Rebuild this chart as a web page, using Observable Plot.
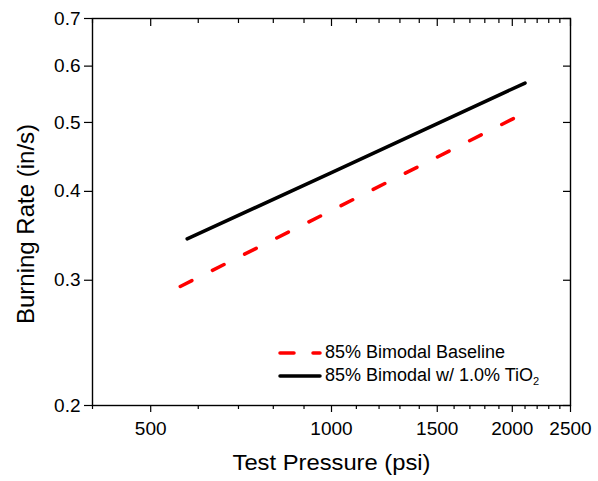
<!DOCTYPE html>
<html>
<head>
<meta charset="utf-8">
<script src="https://cdn.jsdelivr.net/npm/d3@7"></script>
<script src="https://cdn.jsdelivr.net/npm/@observablehq/plot@0.6"></script>
<style>
  html, body { margin: 0; padding: 0; background: #fff; }
  #wrap { position: relative; width: 598px; height: 481px; font-family: "Liberation Sans", Arial, sans-serif; }
  #legend { position: absolute; left: 276px; top: 341px; font-size: 18px; color: #000; line-height: 23px; }
  #legend .row { display: flex; align-items: center; height: 23px; white-space: nowrap; }
  #legend svg { width: 48px; height: 10px; margin-right: 1px; }
  #legend sub { font-size: 11px; vertical-align: -4px; line-height: 0; }
</style>
</head>
<body>
<div id="wrap"></div>
<script>
// ---- data ----
const seriesNames = ["85% Bimodal Baseline", "85% Bimodal w/ 1.0% TiO2"];
const baselinePressure = [560, 1000, 2100];
const baselineRate = [0.294, 0.376, 0.516];
const tio2Pressure = [575, 1000, 2100];
const tio2Rate = [0.343, 0.425, 0.568];
const xMajorTicks = [500, 1000, 1500, 2000, 2500];
const xMinorTicks = [400, 600, 700, 800, 900, 1100, 1200, 1300, 1400, 1600, 1700, 1800, 1900, 2100, 2200, 2300, 2400];
const yTicks = [0.2, 0.3, 0.4, 0.5, 0.6, 0.7];
const xTitle = "Test Pressure (psi)";
const yTitle = "Burning Rate (in/s)";

const baseline = baselinePressure.map((p, i) => ({p, r: baselineRate[i]}));
const tio2 = tio2Pressure.map((p, i) => ({p, r: tio2Rate[i]}));

const font = "Liberation Sans, Arial, sans-serif";
const dash = "13 23";

const chart = Plot.plot({
  width: 598,
  height: 481,
  marginLeft: 92,
  marginRight: 28,
  marginTop: 18,
  marginBottom: 76,
  style: {fontFamily: font, color: "#000", background: "#fff"},
  x: {type: "log", domain: [400, 2500]},
  y: {type: "log", domain: [0.2, 0.7]},
  marks: [
    Plot.axisX({ticks: xMajorTicks, tickSize: 7, tickPadding: 9, fontSize: 19, tickFormat: d => String(d), label: null, strokeWidth: 1.2}),
    Plot.axisX({ticks: xMinorTicks, tickSize: 4, text: null, label: null, strokeWidth: 1.2}),
    Plot.axisX({anchor: "top", ticks: xMajorTicks, tickSize: -7, text: null, label: null, strokeWidth: 1.2}),
    Plot.axisX({anchor: "top", ticks: xMinorTicks, tickSize: -4, text: null, label: null, strokeWidth: 1.2}),
    Plot.axisY({ticks: yTicks, tickSize: 8, tickPadding: 4, fontSize: 19, tickFormat: d3.format(".1f"), label: null, strokeWidth: 1.2}),
    Plot.axisY({anchor: "right", ticks: yTicks, tickSize: -8, text: null, label: null, strokeWidth: 1.2}),
    Plot.frame({stroke: "#000", strokeWidth: 1.4}),
    Plot.line(baseline, {x: "p", y: "r", stroke: "#ff0000", strokeWidth: 3.5, strokeDasharray: dash, strokeLinecap: "round"}),
    Plot.line(tio2, {x: "p", y: "r", stroke: "#000", strokeWidth: 3.5, strokeLinecap: "round"}),
    Plot.text([xTitle], {frameAnchor: "bottom", lineAnchor: "middle", textAnchor: "middle", dy: 57, text: d => d, fontSize: 22, fill: "#000", className: "xtitle"}),
    Plot.text([yTitle], {frameAnchor: "left", lineAnchor: "middle", textAnchor: "middle", dx: -66, dy: 12, rotate: -90, text: d => d, fontSize: 24, fill: "#000"})
  ]
});

const wrap = document.getElementById("wrap");
wrap.appendChild(chart);

// the reference's x title is drawn a little wider than the font's natural width
const xt = chart.querySelector(".xtitle text");
if (xt) { xt.setAttribute("textLength", 198); xt.setAttribute("lengthAdjust", "spacingAndGlyphs"); }

// legend (inside the plot area, lower right)
const legend = document.createElement("div");
legend.id = "legend";
legend.innerHTML = `
  <div class="row"><svg viewBox="0 0 48 10"><line x1="4" y1="5" x2="44" y2="5" stroke="#ff0000" stroke-width="3.5" stroke-linecap="round" stroke-dasharray="14 19"/></svg><span>${seriesNames[0]}</span></div>
  <div class="row"><svg viewBox="0 0 48 10"><line x1="4" y1="5" x2="44" y2="5" stroke="#000" stroke-width="3.5" stroke-linecap="round"/></svg><span>85% Bimodal w/ 1.0% TiO<sub>2</sub></span></div>`;
wrap.appendChild(legend);
</script>
</body>
</html>
